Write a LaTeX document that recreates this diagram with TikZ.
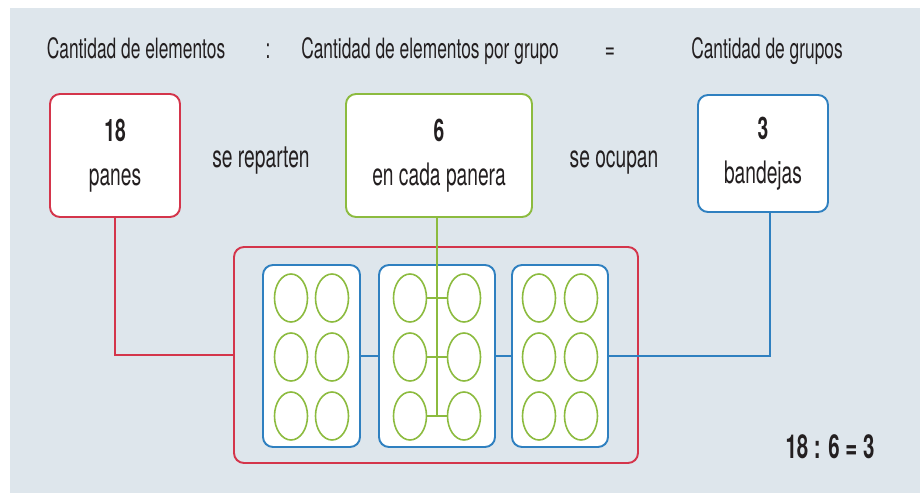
\documentclass[tikz,border=0pt]{standalone}
\usepackage{fontspec}
\setmainfont{TeX Gyre Heros}[FakeStretch=0.62]
\usepackage{tikz}
\usetikzlibrary{shapes.geometric}
\definecolor{fondo}{HTML}{DEE6EC}
\definecolor{rojo}{HTML}{D4354B}
\definecolor{verde}{HTML}{8CBB3F}
\definecolor{azul}{HTML}{2F80C0}
\definecolor{tinta}{HTML}{231F20}
\begin{document}
\begin{tikzpicture}[x=1pt, y=-1pt, line width=1.9pt,
  titulo/.style={anchor=base, text=tinta, font=\fontsize{28}{30}\selectfont},
  texto/.style={anchor=base, text=tinta, font=\fontsize{31}{44}\selectfont},
  caja/.style={draw, rounded corners=10pt, fill=white, align=center, text=tinta, font=\fontsize{31}{44}\selectfont, inner sep=0pt},
  bandeja/.style={draw=azul, rounded corners=10pt, fill=white, minimum height=182pt, inner sep=0pt},
  pan/.style={ellipse, draw=verde, line width=1.6pt, minimum width=33pt, minimum height=48pt, inner sep=0pt}]
\useasboundingbox (0,0) rectangle (920,494);
\fill[fondo] (10,8) rectangle (920,493);
% encabezado
\node[titulo] (t1) at (136,59) {Cantidad de elementos};
\node[titulo] (t2) at (268,59) {:};
\node[titulo] (t3) at (430,59) {Cantidad de elementos por grupo};
\node[titulo] (t4) at (610,59) {=};
\node[titulo] (t5) at (767,59) {Cantidad de grupos};
% cajas
\node[caja, draw=rojo, minimum width=130pt, minimum height=123pt] (panes) at (115,155.5) {\textbf{18}\\panes};
\node[caja, draw=verde, minimum width=186pt, minimum height=123pt] (panera) at (439,155.5) {\textbf{6}\\en cada panera};
\node[caja, draw=azul, minimum width=130pt, minimum height=117pt] (bandejas) at (763,153.5) {\textbf{3}\\bandejas};
\node[texto] (rep) at (261,168) {se reparten};
\node[texto] (ocu) at (614,168) {se ocupan};
% bandejas y panes
\node[draw=rojo, rounded corners=10pt, minimum width=404pt, minimum height=216pt] (total) at (436,355) {};
\node[bandeja, minimum width=97pt] (b1) at (311.5,356) {};
\node[bandeja, minimum width=116pt] (b2) at (437,356) {};
\node[bandeja, minimum width=96pt] (b3) at (560,356) {};
\foreach \t/\x/\d in {1/311.5/20.5, 2/437/27, 3/560/21}
  \foreach \r/\y in {1/298, 2/357, 3/416} {
    \node[pan] (p\t a\r) at (\x-\d,\y) {};
    \node[pan] (p\t b\r) at (\x+\d,\y) {};
  }
% conectores
\draw[rojo] (panes.south) |- (total.west);
\draw[azul] (b1.east) -- (b2.west);
\draw[azul] (b2.east) -- (b3.west);
\draw[azul] (b3.east) -| ([xshift=7pt]bandejas.south);
\draw[verde, line width=1.6pt] ([xshift=-2pt]panera.south) -- ([xshift=-2pt]panera.south |- p2a3.east);
\foreach \r in {1,2,3}
  \draw[verde, line width=1.6pt] (p2a\r.east) -- (p2b\r.west);
\node[texto, font=\bfseries\fontsize{33}{36}\selectfont] (cuenta) at (830,458) {18 : 6 = 3};
\end{tikzpicture}
\end{document}
